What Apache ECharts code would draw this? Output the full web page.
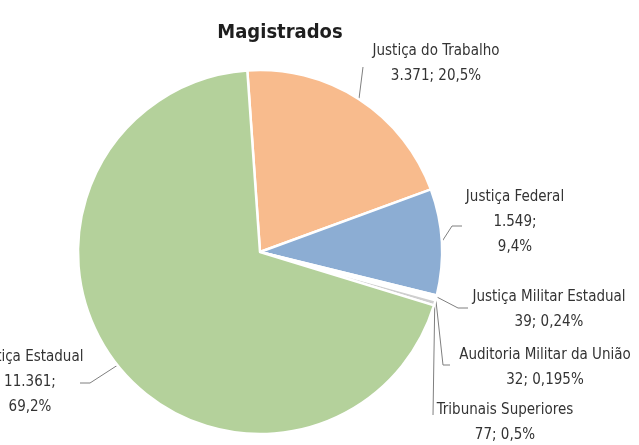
<!DOCTYPE html>
<html>
<head>
<meta charset="utf-8">
<script src="https://cdn.jsdelivr.net/npm/echarts@6/dist/echarts.min.js"></script>
<style>html,body{margin:0;padding:0;background:#fff}#c{width:639px;height:445px}</style>
</head>
<body>
<div id="c"></div>
<script>
const categories = ['Justiça do Trabalho', 'Justiça Federal', 'Justiça Militar Estadual', 'Auditoria Militar da União', 'Tribunais Superiores', 'Justiça Estadual'];
const values = [3371, 1549, 39, 32, 77, 11361];
const valueLabels = ['3.371; 20,5%', '1.549;\n9,4%', '39; 0,24%', '32; 0,195%', '77; 0,5%', '11.361;\n69,2%'];
const colors = ['#F8BB8D', '#8CADD3', '#F4C6A6', '#E3E3E3', '#CFCFCF', '#B4D19B'];

const FONT = "'Liberation Sans Narrow', 'DejaVu Sans Condensed', 'Arial Narrow', sans-serif";
// label block centres and label line bend points (layout only)
const labelPos = [
  {x: 436, y: 64, pts: [[363, 67]]},
  {x: 515, y: 222, pts: [[452, 226], [462, 226]]},
  {x: 549, y: 310, pts: [[458, 308], [468, 308]]},
  {x: 545, y: 368, pts: [[443, 365], [450, 365]]},
  {x: 505, y: 423, pts: [[433, 415]]},
  {x: 30, y: 382, pts: [[90, 383], [80, 383]]}
];

const chart = echarts.init(document.getElementById('c'));
chart.setOption({
  animation: false,
  title: {
    text: 'Magistrados', left: 275, top: 18, textAlign: 'center',
    textStyle: {fontFamily: FONT, fontWeight: 'bold', fontSize: 20, color: '#1e1e1e'}
  },
  series: [{
    type: 'pie',
    center: [260, 252],
    radius: 182,
    startAngle: 94,
    clockwise: true,
    data: categories.map((n, i) => ({name: n, value: values[i], itemStyle: {color: colors[i]}})),
    itemStyle: {borderColor: '#fff', borderWidth: 2.5},
    label: {
      show: true,
      formatter: p => categories[p.dataIndex] + '\n' + valueLabels[p.dataIndex],
      fontFamily: FONT, fontSize: 15, lineHeight: 25, color: '#333', align: 'center',
      overflow: 'none', width: 300
    },
    labelLine: {show: true, length: 10, length2: 10, lineStyle: {color: '#7f7f7f', width: 1}},
    labelLayout: function (params) {
      const lp = labelPos[params.dataIndex];
      const start = params.labelLinePoints ? params.labelLinePoints[0] : null;
      const res = {x: lp.x, y: lp.y, align: 'center', verticalAlign: 'middle'};
      if (start) res.labelLinePoints = [start].concat(lp.pts);
      return res;
    },
    emphasis: {disabled: true}
  }]
});
</script>
</body>
</html>
